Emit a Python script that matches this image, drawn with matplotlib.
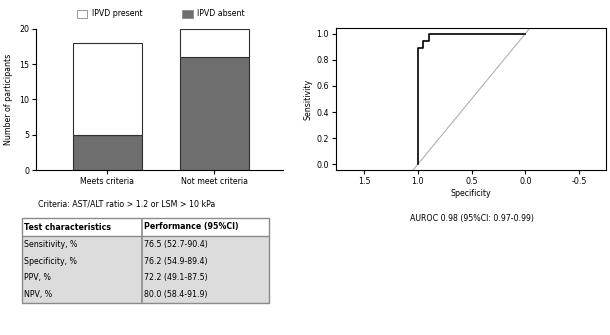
import matplotlib
matplotlib.use("Agg")
import matplotlib.pyplot as plt
from matplotlib.patches import Patch, Rectangle

plt.rcParams['font.family'] = ['DejaVu Sans']
plt.rcParams['font.size'] = 5.7

# bar chart data
groups = ["Meets criteria", "Not meet criteria"]
ipvd_absent = [5, 16]
ipvd_present = [13, 4]

# ROC curve (specificity, sensitivity)
roc_spec = [1.0, 1.0, 0.95, 0.95, 0.9, 0.9, 0.0]
roc_sens = [0.0, 0.889, 0.889, 0.944, 0.944, 1.0, 1.0]

# table
tbl_header = ["Test characteristics", "Performance (95%CI)"]
tbl_names = ["Sensitivity, %", "Specificity, %", "PPV, %", "NPV, %"]
tbl_values = ["76.5 (52.7-90.4)", "76.2 (54.9-89.4)", "72.2 (49.1-87.5)", "80.0 (58.4-91.9)"]

W, H = 610, 335
fig = plt.figure(figsize=(W / 100, H / 100), dpi=100)

def box(x0, y0, x1, y1):
    # pixel coords (top-left origin) -> figure fractions
    return [x0 / W, 1 - y1 / H, (x1 - x0) / W, (y1 - y0) / H]

dark = "#6e6e6e"

# --- stacked bars ---
ax = fig.add_axes(box(36, 28.7, 283, 170))
xpos = range(len(groups))
ax.bar(xpos, ipvd_absent, width=0.645, color=dark, edgecolor="#303030", linewidth=0.8)
ax.bar(xpos, ipvd_present, bottom=ipvd_absent, width=0.645, color="white",
       edgecolor="#303030", linewidth=0.8)
ax.set_xlim(-0.664, 1.645)
ax.set_ylim(0, 20)
ax.set_yticks([0, 5, 10, 15, 20])
ax.set_xticks(list(xpos))
ax.set_xticklabels(groups)
ax.set_ylabel("Number of participants")
ax.spines[['top', 'right']].set_visible(False)
for s in ['left', 'bottom']:
    ax.spines[s].set_linewidth(0.8)
ax.tick_params(width=0.8, length=3, pad=2)

handles = [Patch(facecolor="white", edgecolor="#888888", linewidth=0.6),
           Patch(facecolor=dark, edgecolor="#888888", linewidth=0.6)]
fig.legend(handles, ["IPVD present", "IPVD absent"], loc="center",
           bbox_to_anchor=(161 / W, 1 - 14 / H), ncol=2, frameon=False,
           handlelength=1.3, handleheight=1.3, columnspacing=5.0, handletextpad=0.6)

fig.text(38 / W, 1 - 204 / H, "Criteria: AST/ALT ratio > 1.2 or LSM > 10 kPa",
         ha="left", va="center")

# --- ROC ---
ax2 = fig.add_axes(box(336, 28, 606, 170))
ax2.plot([2, -1], [-1, 2], color="#b0b0b0", linewidth=0.8)
ax2.plot(roc_spec, roc_sens, color="black", linewidth=1.2)
ax2.set_xlim(1.76, -0.75)
ax2.set_ylim(-0.043, 1.043)
ax2.set_xticks([1.5, 1.0, 0.5, 0.0, -0.5])
ax2.set_yticks([0.0, 0.2, 0.4, 0.6, 0.8, 1.0])
ax2.set_xticklabels(["1.5", "1.0", "0.5", "0.0", "-0.5"])
ax2.set_yticklabels(["0.0", "0.2", "0.4", "0.6", "0.8", "1.0"])
ax2.set_xlabel("Specificity", labelpad=2)
ax2.set_ylabel("Sensitivity", labelpad=3)
for s in ax2.spines.values():
    s.set_linewidth(0.8)
ax2.tick_params(width=0.8, length=3, pad=2)
fig.text(471.7 / W, 1 - 218 / H, "AUROC 0.98 (95%CI: 0.97-0.99)", ha="center", va="center")

# --- table (drawn in pixel units) ---
tw, th = 247, 85
ax3 = fig.add_axes(box(22, 218, 22 + tw, 218 + th))
ax3.set_xlim(0, tw)
ax3.set_ylim(th, 0)
ax3.axis("off")
col_split = 119.7
head_h = 18
row_h = (th - head_h) / len(tbl_names)
edge = "#8a8a8a"
ax3.add_patch(Rectangle((0, head_h), tw, th - head_h, facecolor="#dcdcdc",
                        edgecolor="none"))
ax3.add_patch(Rectangle((0, 0), tw, th, facecolor="none", edgecolor=edge,
                        linewidth=1.0, clip_on=False))
ax3.plot([0, tw], [head_h, head_h], color=edge, linewidth=1.0)
ax3.plot([col_split, col_split], [0, th], color=edge, linewidth=1.2)
ax3.text(2.5, head_h / 2, tbl_header[0], weight="bold", va="center", ha="left")
ax3.text(col_split + 2.5, head_h / 2, tbl_header[1], weight="bold", va="center", ha="left")
for i, (n, v) in enumerate(zip(tbl_names, tbl_values)):
    yc = head_h + row_h * (i + 0.5)
    ax3.text(2.5, yc, n, va="center", ha="left")
    ax3.text(col_split + 2.5, yc, v, va="center", ha="left")

fig.savefig("out.png", dpi=100)
